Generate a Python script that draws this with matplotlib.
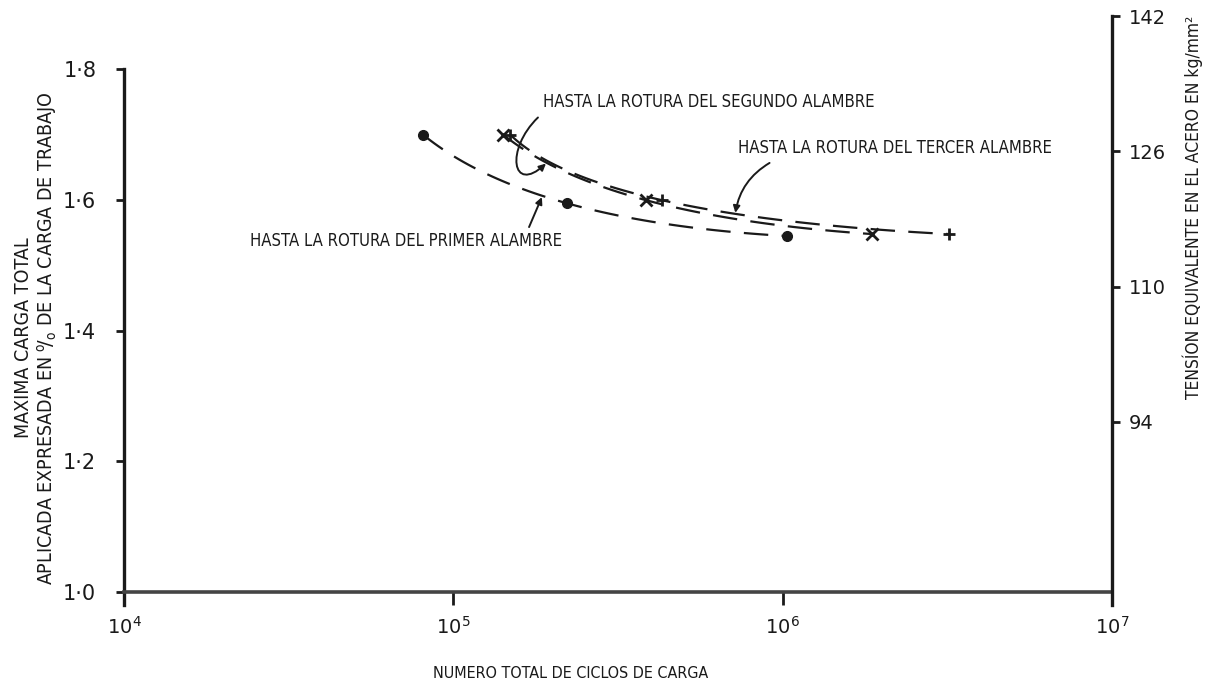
import matplotlib
matplotlib.use("Agg")
import matplotlib.pyplot as plt
from matplotlib.patches import FancyArrowPatch
from matplotlib.path import Path
import numpy as np

# data
ciclos_primer = [8.1e4, 2.22e5, 1.03e6]
carga_primer = [1.70, 1.595, 1.545]
ciclos_segundo = [1.42e5, 3.84e5, 1.87e6]
carga_segundo = [1.70, 1.60, 1.548]
ciclos_tercer = [1.49e5, 4.29e5, 3.2e6]
carga_tercer = [1.70, 1.60, 1.548]

y_ticks = [1.0, 1.2, 1.4, 1.6, 1.8]
y_ticklabels = ["1·0", "1·2", "1·4", "1·6", "1·8"]
tension_ticks = [94, 110, 126, 142]
x_ticks = [1e4, 1e5, 1e6, 1e7]

# right axis: tension = A + B * carga
A, B = -3.4, 77.27

plt.rcParams["font.family"] = ["DejaVu Sans"]
INK = "#1a1a1a"
COND = dict(fontstretch="condensed", color=INK)


def curve(xs, ys, n=60):
    # smooth parametric quadratic through the three readings (log x)
    t0 = np.array([0.0, 0.5, 1.0])
    px_ = np.polyfit(t0, np.log10(xs), 2)
    py_ = np.polyfit(t0, ys, 2)
    t = np.linspace(0, 1, n)
    return 10 ** np.polyval(px_, t), np.polyval(py_, t)


fig = plt.figure(figsize=(12.13, 6.89), dpi=100)
ax = fig.add_axes([0.1022, 0.1219, 0.8145, 0.8578])
ax.set_xscale("log")
ax.set_xlim(1e4, 1e7)
ylo, yhi = 0.98, 1.885
ax.set_ylim(ylo, yhi)

for xs, ys in [(ciclos_primer, carga_primer),
               (ciclos_segundo, carga_segundo),
               (ciclos_tercer, carga_tercer)]:
    cx, cy = curve(xs, ys)
    ax.plot(cx, cy, color=INK, lw=1.6, dashes=(11, 6))

ax.plot(ciclos_primer, carga_primer, "o", color=INK, ms=7)
ax.plot(ciclos_segundo, carga_segundo, "x", color=INK, ms=9, mew=2)
ax.plot(ciclos_tercer, carga_tercer, "+", color=INK, ms=9, mew=2)

# spines
ax.spines["top"].set_visible(False)
ax.spines["right"].set_visible(False)
ax.spines["bottom"].set_position(("data", 1.0))
ax.spines["bottom"].set_linewidth(2.6)
ax.spines["bottom"].set_color("#444444")
ax.spines["left"].set_linewidth(2.4)
ax.spines["left"].set_color(INK)
ax.spines["left"].set_bounds(ylo, 1.8)

ax.set_xticks(x_ticks)
ax.set_xticklabels([r"$10^{4}$", r"$10^{5}$", r"$10^{6}$", r"$10^{7}$"])
ax.xaxis.set_minor_locator(matplotlib.ticker.NullLocator())
ax.tick_params(axis="x", direction="out", length=9, width=2, pad=8,
               labelsize=14, colors=INK)
ax.set_yticks(y_ticks)
ax.set_yticklabels(y_ticklabels)
ax.tick_params(axis="y", direction="out", length=6, width=2, pad=14,
               labelsize=15, colors=INK)

ax2 = ax.twinx()
ax2.set_ylim(A + B * ylo, A + B * yhi)
for s in ["top", "left", "bottom"]:
    ax2.spines[s].set_visible(False)
ax2.spines["right"].set_linewidth(2.4)
ax2.spines["right"].set_color(INK)
ax2.spines["right"].set_bounds(A + B * ylo, 142)
ax2.set_yticks(tension_ticks)
ax2.tick_params(axis="y", direction="out", length=6, width=2, pad=6,
                labelsize=14, colors=INK)

# axis titles
fig.text(571 / 1213, 1 - 673 / 689, "NUMERO TOTAL DE CICLOS DE CARGA",
         ha="center", va="center", fontsize=11.5, **COND)
fig.text(24 / 1213, 1 - 338 / 689, "MAXIMA CARGA TOTAL", rotation=90,
         ha="center", va="center", fontsize=14, **COND)
fig.text(47 / 1213, 1 - 338 / 689,
         r"APLICADA EXPRESADA EN $^{\mathregular{o}}\!/_{\mathregular{o}}$ DE LA CARGA DE TRABAJO",
         rotation=90, ha="center", va="center", fontsize=14, **COND)
fig.text(1193 / 1213, 1 - 207 / 689, "TENSÍON EQUIVALENTE EN EL ACERO EN kg/mm²",
         rotation=90, ha="center", va="center", fontsize=12.5, **COND)


def px(x, y):
    # pixel position in the figure -> axes fraction
    return ((x - 124) / (1112 - 124), (605 - y) / (605 - 14.6))


ax.text(*px(543, 103), "HASTA LA ROTURA DEL SEGUNDO ALAMBRE", transform=ax.transAxes,
        ha="left", va="center", fontsize=12, **COND)
ax.text(*px(738, 148), "HASTA LA ROTURA DEL TERCER ALAMBRE", transform=ax.transAxes,
        ha="left", va="center", fontsize=12, **COND)
ax.text(*px(250, 241), "HASTA LA ROTURA DEL PRIMER ALAMBRE", transform=ax.transAxes,
        ha="left", va="center", fontsize=12, **COND)

arrow = dict(arrowstyle="-|>", color=INK, lw=1.4, mutation_scale=10)
ax.annotate("", xy=px(543, 195), xytext=px(528, 230), xycoords="axes fraction",
            textcoords="axes fraction", arrowprops=arrow)
ax.annotate("", xy=px(735, 216), xytext=px(772, 162), xycoords="axes fraction",
            textcoords="axes fraction",
            arrowprops=dict(arrow, connectionstyle="arc3,rad=0.25"))
loop = Path([px(538, 118), px(505, 150), px(512, 195), px(546, 164)],
            [Path.MOVETO, Path.CURVE4, Path.CURVE4, Path.CURVE4])
ax.add_patch(FancyArrowPatch(path=loop, transform=ax.transAxes, arrowstyle="-|>",
                             color=INK, lw=1.4, mutation_scale=10))

fig.savefig("out.png", dpi=100)
